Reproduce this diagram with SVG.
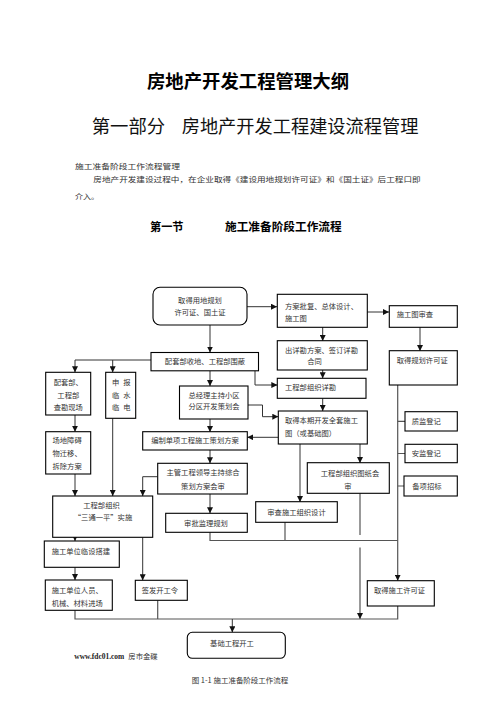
<svg xmlns="http://www.w3.org/2000/svg" width="496" height="702" viewBox="0 0 496 702">
<defs>
<style>
.t{font-family:"Noto Sans CJK SC","Noto Sans",sans-serif;font-size:7.3px;fill:#333}
.c{text-anchor:middle}
.b{fill:#fff;stroke:#000;stroke-width:1.1}
.ln{fill:none;stroke:#333;stroke-width:1}
.g{fill:none;stroke:#555;stroke-width:1.2}
</style>
<marker id="ar" markerUnits="userSpaceOnUse" markerWidth="6" markerHeight="6" refX="6" refY="3" orient="auto">
<path d="M0,0 L6,3 L0,6 z" fill="#111"/>
</marker>
</defs>
<rect width="496" height="702" fill="#fff"/>

<g id="header">
<text x="248" y="88" text-anchor="middle" font-family="'Noto Sans CJK SC',sans-serif" font-size="18" font-weight="bold" fill="#000" textLength="202" lengthAdjust="spacingAndGlyphs">房地产开发工程管理大纲</text>
<text x="91.7" y="133" font-family="'Noto Sans CJK SC',sans-serif" font-size="18" fill="#111" textLength="73.5" lengthAdjust="spacingAndGlyphs">第一部分</text>
<text x="181.7" y="133" font-family="'Noto Sans CJK SC',sans-serif" font-size="18" fill="#111" textLength="236.7" lengthAdjust="spacingAndGlyphs">房地产开发工程建设流程管理</text>
<text x="75" y="169" class="t" font-size="8.7" fill="#444" textLength="105" lengthAdjust="spacingAndGlyphs">施工准备阶段工作流程管理</text>
<text x="93.3" y="182.3" class="t" font-size="8.7" fill="#444" textLength="327.4" lengthAdjust="spacingAndGlyphs">房地产开发建设过程中，在企业取得《建设用地规划许可证》和《国土证》后工程口即</text>
<text x="75" y="198.7" class="t" font-size="8.7" fill="#444" textLength="24" lengthAdjust="spacingAndGlyphs">介入。</text>
<text x="150" y="230.8" font-family="'Noto Sans CJK SC',sans-serif" font-size="11.5" font-weight="bold" fill="#000" textLength="33.5" lengthAdjust="spacingAndGlyphs">第一节</text>
<text x="225" y="230.8" font-family="'Noto Sans CJK SC',sans-serif" font-size="11.5" font-weight="bold" fill="#000" textLength="116.7" lengthAdjust="spacingAndGlyphs">施工准备阶段工作流程</text>
</g>

<g id="connectors">
<path class="ln" d="M247,306.7 H277" marker-end="url(#ar)"/>
<path class="ln" d="M367,312 H389" marker-end="url(#ar)"/>
<path class="ln" d="M420,327 V351" marker-end="url(#ar)"/>
<path class="ln" d="M322.7,327 V341" marker-end="url(#ar)"/>
<path class="ln" d="M322.7,370 V378.3" marker-end="url(#ar)"/>
<path class="ln" d="M322.7,398.3 V411" marker-end="url(#ar)"/>
<path class="ln" d="M210,325 V352.5" marker-end="url(#ar)"/>
<path class="ln" d="M151,360 H75 V372.3" marker-end="url(#ar)"/>
<path class="ln" d="M112.7,360 V372.3" marker-end="url(#ar)"/>
<path class="ln" d="M255,370.8 V385 H277.3" marker-end="url(#ar)"/>
<path class="ln" d="M210,370.8 V386" marker-end="url(#ar)"/>
<path class="ln" d="M248,405 H262.5 V416.7 H278.3" marker-end="url(#ar)"/>
<path class="ln" d="M278.3,437.3 H247.3" marker-end="url(#ar)"/>
<path class="ln" d="M210,419 V432" marker-end="url(#ar)"/>
<path class="ln" d="M210,450 V463.3" marker-end="url(#ar)"/>
<path class="ln" d="M210,494 V513.3" marker-end="url(#ar)"/>
<path class="ln" d="M157.7,476.7 H142.7 V496" marker-end="url(#ar)"/>
<path class="ln" d="M75,415 V431.7" marker-end="url(#ar)"/>
<path class="ln" d="M75,474 V496" marker-end="url(#ar)"/>
<path class="ln" d="M112.7,418.3 V496" marker-end="url(#ar)"/>
<path class="ln" d="M75,537.3 V541" marker-end="url(#ar)"/>
<path class="ln" d="M142.7,537.3 V580.3" marker-end="url(#ar)"/>
<path class="ln" d="M75,567.3 V580" marker-end="url(#ar)"/>
<path class="g" d="M397.7,385 V580.7" marker-end="url(#ar)"/>
<path class="g" d="M397.7,421.3 H405 M397.7,453.5 H405 M397.7,486 H404"/>
<path class="ln" d="M300,444 V502" marker-end="url(#ar)"/>
<path class="ln" d="M360,444 V463" marker-end="url(#ar)"/>
<path class="g" d="M210,532.3 V540.5 H397.7 M285,522.3 V540.5"/>
<path class="g" d="M360,493.3 V535"/>
<path class="ln" d="M360,547.5 V619" marker-end="url(#ar)"/>
<path class="g" d="M75,610.3 V619 H397.7 V606 M157.7,600.3 V619"/>
<path class="ln" d="M232.3,619 V632.3" marker-end="url(#ar)"/>
</g>

<g id="n1"><rect class="b" x="153" y="287.3" width="94" height="37.7" rx="7"/>
<text class="t c" x="200" y="302.6">取得用地规划</text><text class="t c" x="200" y="314.9">许可证、国土证</text></g>
<g id="n2"><rect class="b" x="277.3" y="294.3" width="90" height="33"/>
<text class="t" x="285" y="308.6">方案批复、总体设计、</text><text class="t" x="285" y="320.6">施工图</text></g>
<g id="n3"><rect class="b" x="389.3" y="305.7" width="68" height="21.6"/>
<text class="t" x="396.7" y="316.9">施工图审查</text></g>
<g id="n4"><rect class="b" x="389.3" y="350.7" width="68" height="34.3"/>
<text class="t" x="396.7" y="362.6">取得规划许可证</text></g>
<g id="n5"><rect class="b" x="277.3" y="340.7" width="90" height="29.3"/>
<text class="t" x="285" y="352.6">出详勘方案、签订详勘</text><text class="t" x="307.3" y="364.3">合同</text></g>
<g id="n6"><rect class="b" x="277.3" y="378.3" width="88.7" height="20"/>
<text class="t" x="285" y="389.9">工程部组织详勘</text></g>
<g id="n7"><rect class="b" x="151" y="352.5" width="107.5" height="18.3"/>
<text class="t c" x="205" y="364.4">配套部收地、工程部围蔽</text></g>
<g id="n8"><rect class="b" x="45.7" y="372.3" width="45" height="42.7"/>
<text class="t c" x="68.3" y="385">配套部、</text><text class="t c" x="68.3" y="397.6">工程部</text><text class="t c" x="68.3" y="410">查勘现场</text></g>
<g id="n9"><rect class="b" x="105.7" y="372.3" width="30" height="46"/>
<text class="t" x="112" y="385" textLength="18.5" lengthAdjust="spacing">申 报</text><text class="t" x="112" y="397.6" textLength="18.5" lengthAdjust="spacing">临 水</text><text class="t" x="112" y="410" textLength="18.5" lengthAdjust="spacing">临 电</text></g>
<g id="n10"><rect class="b" x="179.5" y="386" width="68.5" height="33"/>
<text class="t c" x="214" y="397.6">总经理主持小区</text><text class="t c" x="214" y="409.4">分区开发策划会</text></g>
<g id="n11"><rect class="b" x="142.7" y="431.7" width="104.6" height="18.3"/>
<text class="t c" x="195" y="443.3">编制单项工程施工策划方案</text></g>
<g id="n12"><rect class="b" x="157.7" y="463.3" width="89.6" height="30.7"/>
<text class="t c" x="203" y="475.3">主管工程领导主持综合</text><text class="t c" x="203" y="488.6">策划方案会审</text></g>
<g id="n13"><rect class="b" x="165.7" y="513.3" width="81.6" height="19"/>
<text class="t c" x="206" y="525.9">审批监理规划</text></g>
<g id="n14"><rect class="b" x="45.7" y="431.7" width="45" height="42.3"/>
<text class="t" x="52.5" y="443.3">场地障碍</text><text class="t" x="52.5" y="456.4">物迁移、</text><text class="t" x="52.5" y="469.3">拆除方案</text></g>
<g id="n15"><rect class="b" x="52.7" y="496" width="100" height="41.3"/>
<text class="t c" x="101.5" y="508.4">工程部组织</text><text class="t c" x="103" y="520.4">“三通一平”实施</text></g>
<g id="n16"><rect class="b" x="44.3" y="541" width="75" height="26.3"/>
<text class="t" x="51.7" y="554.3">施工单位临设搭建</text></g>
<g id="n17"><rect class="b" x="45.3" y="580" width="67" height="30.3"/>
<text class="t" x="51.7" y="593.3">施工单位人员、</text><text class="t" x="51.7" y="605.9">机械、材料进场</text></g>
<g id="n18"><rect class="b" x="135.3" y="580.3" width="52" height="20"/>
<text class="t" x="141.7" y="593.3">签发开工令</text></g>
<g id="n19"><rect class="b" x="367.3" y="580.7" width="67" height="25.3"/>
<text class="t" x="374" y="593.3">取得施工许可证</text></g>
<g id="n20"><rect class="b" x="187.3" y="632.3" width="98" height="26" rx="5"/>
<text class="t c" x="232" y="645.9">基础工程开工</text></g>
<g id="n21"><rect class="b" x="278.3" y="411" width="89" height="33"/>
<text class="t" x="285" y="423.3">取得本期开发全套施工</text><text class="t" x="285" y="435.9">图（或基础图）</text></g>
<g id="n22"><rect class="b" x="307.3" y="462.7" width="82" height="30.6"/>
<text class="t c" x="350" y="475.9">工程部组织图纸会</text><text class="t c" x="348" y="488.6">审</text></g>
<g id="n23"><rect class="b" x="255.7" y="501.7" width="81.6" height="20.6"/>
<text class="t c" x="296.5" y="514.9">审查施工组织设计</text></g>
<g id="n24"><rect class="b" x="405" y="411.7" width="52.3" height="19.3"/>
<text class="t" x="411.7" y="424.3">质监登记</text></g>
<g id="n25"><rect class="b" x="405" y="444.3" width="52.3" height="18.4"/>
<text class="t" x="411.7" y="455.9">安监登记</text></g>
<g id="n26"><rect class="b" x="404" y="476" width="53.3" height="20"/>
<text class="t" x="412.3" y="488.6">备项招标</text></g>

<g id="footer">
<text x="74.3" y="658.5" font-family="'Liberation Serif',serif" font-size="7.5" font-weight="bold" fill="#222" textLength="50" lengthAdjust="spacingAndGlyphs">www.fdc01.com</text>
<text class="t" x="128.3" y="658.5" textLength="29.4" lengthAdjust="spacingAndGlyphs">房市金碟</text>
<text class="t" x="191.7" y="682.6" textLength="96.6" lengthAdjust="spacingAndGlyphs">图 1-1 施工准备阶段工作流程</text>
</g>
</svg>
